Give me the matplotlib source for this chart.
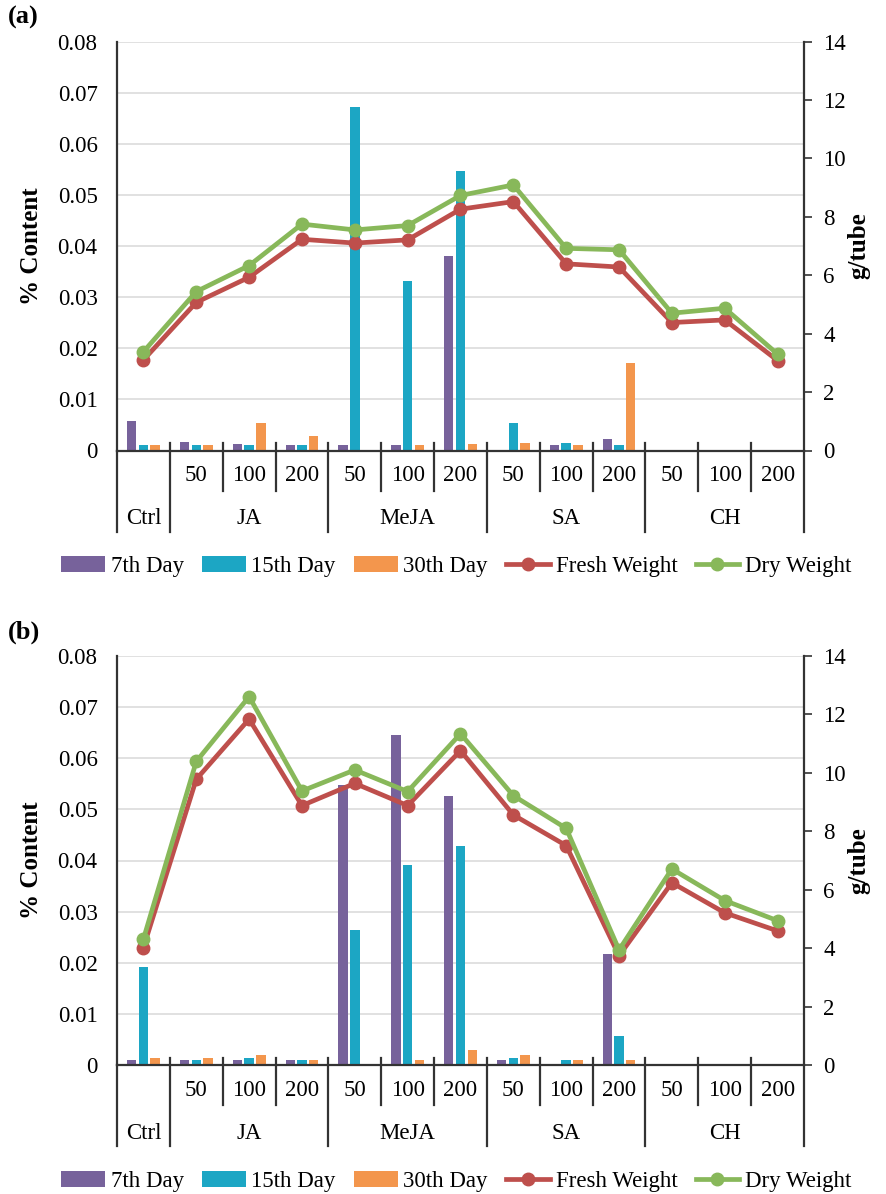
import matplotlib
matplotlib.use("Agg")
import matplotlib.pyplot as plt
import matplotlib.transforms as mtransforms
import numpy as np

plt.rcParams["font.family"] = ["Liberation Serif", "DejaVu Serif"]

# treatment layout: control plus three doses for four elicitors
GROUPS = ["Ctrl", "JA", "MeJA", "SA", "CH"]
GROUP_SIZES = [1, 3, 3, 3, 3]
DOSES = ["", "50", "100", "200", "50", "100", "200", "50", "100", "200", "50", "100", "200"]

SERIES_BARS = ["7th Day", "15th Day", "30th Day"]
SERIES_LINES = ["Fresh Weight", "Dry Weight"]

# panel (a) -- % content per harvest day
A_DAY7 = [0.0058, 0.0016, 0.0013, 0.0011, 0.0010, 0.0011, 0.0381, 0.0, 0.0010, 0.0023, 0.0, 0.0, 0.0]
A_DAY15 = [0.0010, 0.0010, 0.0010, 0.0011, 0.0672, 0.0331, 0.0546, 0.0053, 0.0014, 0.0010, 0.0, 0.0, 0.0]
A_DAY30 = [0.0010, 0.0010, 0.0054, 0.0029, 0.0, 0.0010, 0.0013, 0.0015, 0.0010, 0.0171, 0.0, 0.0, 0.0]
# panel (a) -- biomass, g/tube
A_FRESH = [3.10, 5.07, 5.93, 7.23, 7.10, 7.21, 8.26, 8.52, 6.39, 6.28, 4.38, 4.47, 3.08]
A_DRY = [3.38, 5.44, 6.33, 7.75, 7.55, 7.70, 8.73, 9.09, 6.92, 6.87, 4.70, 4.87, 3.30]

# panel (b)
B_DAY7 = [0.0010, 0.0010, 0.0010, 0.0010, 0.0548, 0.0646, 0.0527, 0.0010, 0.0, 0.0217, 0.0, 0.0, 0.0]
B_DAY15 = [0.0192, 0.0010, 0.0013, 0.0010, 0.0265, 0.0391, 0.0429, 0.0014, 0.0010, 0.0056, 0.0, 0.0, 0.0]
B_DAY30 = [0.0013, 0.0014, 0.0019, 0.0010, 0.0, 0.0010, 0.0030, 0.0019, 0.0010, 0.0010, 0.0, 0.0, 0.0]
B_FRESH = [4.02, 9.78, 11.84, 8.88, 9.64, 8.88, 10.76, 8.56, 7.51, 3.74, 6.24, 5.21, 4.59]
B_DRY = [4.31, 10.39, 12.61, 9.38, 10.10, 9.36, 11.34, 9.22, 8.10, 3.94, 6.71, 5.63, 4.94]

BAR_COLORS = ["#77629b", "#1ca6c4", "#f3964d"]
LINE_COLORS = ["#be4f4c", "#88b85a"]
AXIS_COLOR = "#333333"
GRID_COLOR = "#d9d9d9"

TICK_FS = 16.5
LEGEND_FS = 16.5
LABEL_FS = 18


def draw_panel(fig, rect, bars, lines, tag, tag_y):
    ax = fig.add_axes(rect)
    x = np.arange(len(DOSES))
    offsets = [-0.222, 0.0, 0.222]
    handles = []
    for vals, off, color, name in zip(bars, offsets, BAR_COLORS, SERIES_BARS):
        h = ax.bar(x + off, vals, width=0.178, color=color, linewidth=0, label=name, zorder=2)
        handles.append(h)

    ax.set_xlim(-0.5, len(DOSES) - 0.5)
    ax.set_ylim(0, 0.08)
    ax.set_yticks(np.arange(0, 0.0801, 0.01))
    ax.set_yticklabels(["0"] + [f"{v:.2f}" for v in np.arange(0.01, 0.0801, 0.01)])
    ax.yaxis.grid(True, color=GRID_COLOR, linewidth=1.1, zorder=0)
    ax.set_axisbelow(True)
    ax.tick_params(axis="y", length=0, pad=14, labelsize=TICK_FS)
    ax.set_xticks([])
    for side in ("top", "right"):
        ax.spines[side].set_visible(False)
    ax.spines["left"].set_color(AXIS_COLOR)
    ax.spines["left"].set_linewidth(1.6)
    ax.spines["bottom"].set_color(AXIS_COLOR)
    ax.spines["bottom"].set_linewidth(1.6)
    ax.set_ylabel("% Content", fontsize=LABEL_FS, fontweight="bold")
    ax.yaxis.set_label_coords(-0.107, 0.5)

    ax2 = ax.twinx()
    ax2.set_ylim(0, 14)
    ax2.set_yticks(np.arange(0, 15, 2))
    ax2.tick_params(axis="y", direction="out", length=6, width=1.2, pad=8,
                    labelsize=TICK_FS, color=AXIS_COLOR)
    for side in ("top", "left", "bottom"):
        ax2.spines[side].set_visible(False)
    ax2.spines["right"].set_color(AXIS_COLOR)
    ax2.spines["right"].set_linewidth(1.6)
    ax2.set_ylabel("g/tube", fontsize=LABEL_FS, fontweight="bold")
    ax2.yaxis.set_label_coords(1.063, 0.5)
    for vals, color, name in zip(lines, LINE_COLORS, SERIES_LINES):
        h, = ax2.plot(x, vals, "-o", color=color, linewidth=3.4, markersize=9,
                      label=name, zorder=3)
        handles.append(h)

    # two-row category axis with separators
    trans = mtransforms.blended_transform_factory(ax.transData, ax.transAxes)
    for i, d in enumerate(DOSES):
        if d:
            ax.text(i, -0.062, d, transform=trans, ha="center", va="center",
                    fontsize=TICK_FS)
    edges = np.cumsum([0] + GROUP_SIZES) - 0.5
    for i in range(1, len(DOSES)):
        b = i - 0.5
        low = -0.199 if b in edges else -0.099
        ax.plot([b, b], [0.018, low], transform=trans, color=AXIS_COLOR,
                linewidth=1.6, clip_on=False)
    for b in (edges[0], edges[-1]):
        ax.plot([b, b], [0, -0.199], transform=trans, color=AXIS_COLOR,
                linewidth=1.6, clip_on=False)
    for g, lo, hi in zip(GROUPS, edges[:-1], edges[1:]):
        ax.text((lo + hi) / 2, -0.167, g, transform=trans, ha="center",
                va="center", fontsize=TICK_FS)

    ax.legend(handles, SERIES_BARS + SERIES_LINES, loc="center", ncol=5,
              bbox_to_anchor=(0.494, -0.284), frameon=False, fontsize=LEGEND_FS,
              handlelength=1.9, handletextpad=0.25, columnspacing=0.8,
              borderpad=0.2)

    fig.text(0.009, tag_y, tag, fontsize=19, fontweight="bold", va="center")
    return ax, ax2


fig = plt.figure(figsize=(8.86, 11.94), dpi=100)
left = 117 / 886
width = 687 / 886
height = 409 / 1194
draw_panel(fig, [left, 1 - 450.5 / 1194, width, height],
           [A_DAY7, A_DAY15, A_DAY30], [A_FRESH, A_DRY], "(a)", 1 - 17 / 1194)
draw_panel(fig, [left, 1 - 1065 / 1194, width, height],
           [B_DAY7, B_DAY15, B_DAY30], [B_FRESH, B_DRY], "(b)", 1 - 632 / 1194)

fig.savefig("out.png", dpi=100)
